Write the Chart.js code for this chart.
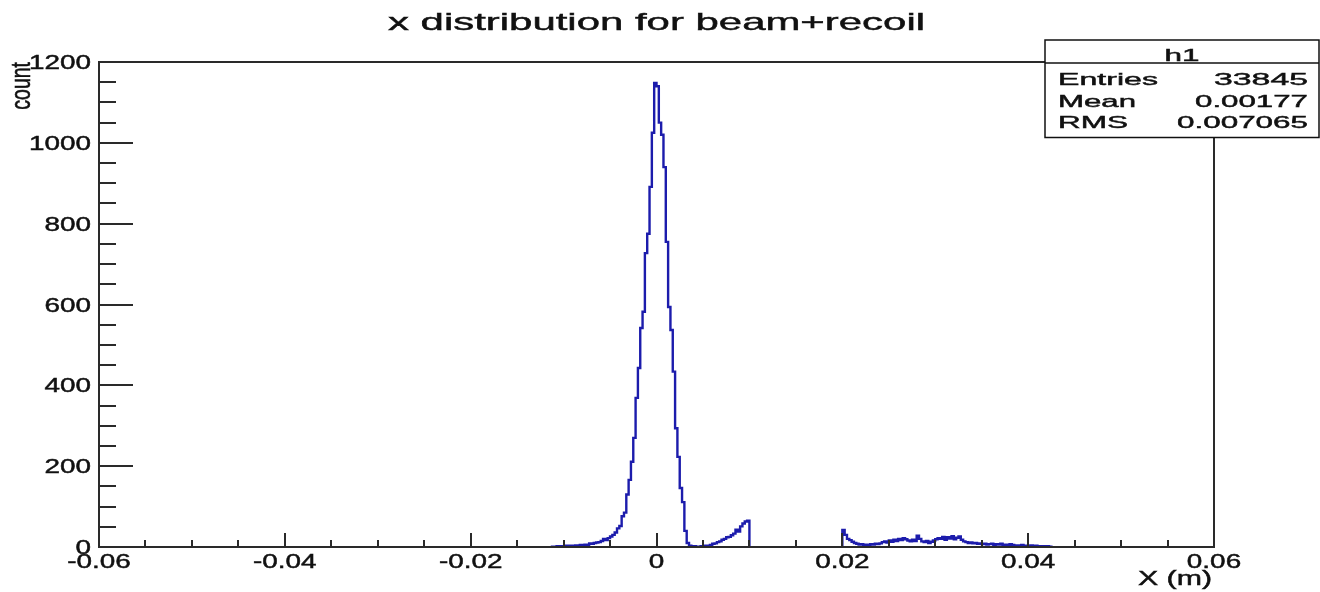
<!DOCTYPE html>
<html>
<head>
<meta charset="utf-8">
<script src="https://cdn.jsdelivr.net/npm/chart.js@4/dist/chart.umd.min.js"></script>
<style>
html,body{margin:0;padding:0;background:#fff}
#c{display:block}
</style>
</head>
<body>
<canvas id="c" width="1320" height="592"></canvas>
<script>
// histogram h1 (bin width 0.00025 m)
const titleText = 'x distribution for beam+recoil';
const xTitle = 'X (m)';
const yTitle = 'count';
const binWidth = 0.00025;

// main peak + small shoulder, bins starting at -0.01125
const peakStart = -0.01125;
const peakCounts = [
  1, 1, 2, 1, 2, 1, 3, 2, 3, 2,
  4, 3, 5, 4, 6, 5, 9, 8, 10, 11,
  12, 15, 20, 17, 22, 26, 30, 36, 46, 52,
  76, 85, 130, 166, 211, 270, 369, 443, 542, 582,
  727, 775, 891, 1025, 1148, 1140, 1050, 1020, 940, 755,
  594, 537, 434, 294, 223, 146, 111, 40, 10, 3,
  1, 2, 1, 1, 2, 1, 3, 2, 5, 8,
  9, 12, 14, 18, 20, 24, 25, 29, 33, 43,
  38, 51, 58, 63, 65
];

// recoil tail, bins starting at 0.02
const tailStart = 0.02;
const tailCounts = [
  42, 30, 20, 17, 13, 10, 8, 6, 7, 5,
  6, 5, 7, 6, 8, 7, 9, 12, 14, 11,
  16, 13, 18, 15, 20, 17, 22, 19, 16, 14,
  18, 15, 28, 20, 14, 12, 15, 10, 13, 16,
  19, 22, 20, 25, 18, 24, 21, 27, 19, 23,
  26, 18, 14, 12, 10, 11, 9, 10, 8, 9,
  7, 8, 6, 7, 8, 5, 7, 6, 8, 5,
  6, 4, 7, 5, 3, 4, 3, 5, 2, 3,
  2, 4, 2, 3, 2, 1, 2, 1, 2, 1
];

const xTicks = [-0.06, -0.04, -0.02, 0, 0.02, 0.04, 0.06];
const xTickLabels = ['-0.06', '-0.04', '-0.02', '0', '0.02', '0.04', '0.06'];
const yTicks = [0, 200, 400, 600, 800, 1000, 1200];
const yTickLabels = ['0', '200', '400', '600', '800', '1000', '1200'];

const statsName = 'h1';
const statsKeys = ['Entries', 'Mean', 'RMS'];
const statsVals = ['33845', '0.00177', '0.007065'];

const FONT = '"Liberation Sans", Arial, Helvetica, sans-serif';
const LINE = 'rgb(28,28,172)';
const INK = '#111';

// step points at bin lower edges, closed down to zero at both ends
function histPoints(start, counts) {
  const pts = [{x: start, y: 0}];
  counts.forEach((c, i) => pts.push({x: start + i * binWidth, y: c}));
  pts.push({x: start + counts.length * binWidth, y: 0});
  return pts;
}

// text stretched sideways like the ROOT export, with a light stroke for weight
function txt(ctx, s, x, y, size, align, sx) {
  ctx.save();
  ctx.font = size + 'px ' + FONT;
  ctx.translate(x, y);
  ctx.scale(sx, 1);
  ctx.textAlign = align;
  ctx.textBaseline = 'alphabetic';
  ctx.fillStyle = INK;
  ctx.strokeStyle = INK;
  ctx.lineWidth = 0.45;
  ctx.fillText(s, 0, 0);
  ctx.strokeText(s, 0, 0);
  ctx.restore();
}
function txtWidth(ctx, s, x, y, size, align, w) {
  ctx.save();
  ctx.font = size + 'px ' + FONT;
  const sx = w / ctx.measureText(s).width;
  ctx.restore();
  txt(ctx, s, x, y, size, align, sx);
}

const rootFrame = {
  id: 'rootFrame',
  beforeDraw(chart) {
    const ctx = chart.ctx;
    ctx.save();
    ctx.fillStyle = '#fff';
    ctx.fillRect(0, 0, chart.width, chart.height);
    ctx.restore();
  },
  afterDatasetsDraw(chart) {
    const {ctx, chartArea: a, scales: {x, y}} = chart;
    ctx.save();
    ctx.strokeStyle = '#2a2a2a';
    ctx.lineWidth = 2;
    ctx.strokeRect(a.left, a.top, a.right - a.left, a.bottom - a.top);

    // inward ticks: y every 50 (major 200), x every 0.005 (major 0.02)
    ctx.beginPath();
    for (let v = y.min; v <= y.max + 1e-9; v += 50) {
      const py = Math.round(y.getPixelForValue(v));
      const len = v % 200 === 0 ? 34 : 17;
      ctx.moveTo(a.left, py); ctx.lineTo(a.left + len, py);
    }
    for (let i = 0; i <= 24; i++) {
      const px = Math.round(x.getPixelForValue(x.min + i * 0.005));
      const len = i % 4 === 0 ? 14 : 7;
      ctx.moveTo(px, a.bottom); ctx.lineTo(px, a.bottom - len);
    }
    ctx.stroke();

    yTicks.forEach((v, i) => txt(ctx, yTickLabels[i], a.left - 8, y.getPixelForValue(v) + 7, 19.5, 'right', 1.43));
    xTicks.forEach((v, i) => txt(ctx, xTickLabels[i], x.getPixelForValue(v), 568, 19.5, 'center', 1.43));

    txtWidth(ctx, titleText, 656.5, 30, 24, 'center', 537);
    txtWidth(ctx, xTitle, 1212, 585, 19.5, 'right', 74);

    // rotated y title
    ctx.save();
    ctx.font = '19.5px ' + FONT;
    ctx.translate(30, 62);
    ctx.rotate(-Math.PI / 2);
    ctx.scale(1, 1.43);
    ctx.textAlign = 'right';
    ctx.fillStyle = INK;
    ctx.strokeStyle = INK;
    ctx.lineWidth = 0.4;
    ctx.fillText(yTitle, 0, 0);
    ctx.strokeText(yTitle, 0, 0);
    ctx.restore();

    // stats box
    const bx = 1045, by = 40, bw = 274, bh = 97.5;
    ctx.fillStyle = '#fff';
    ctx.fillRect(bx, by, bw, bh);
    ctx.strokeStyle = INK;
    ctx.lineWidth = 1.5;
    ctx.strokeRect(bx, by, bw, bh);
    ctx.beginPath();
    ctx.moveTo(bx, 63); ctx.lineTo(bx + bw, 63);
    ctx.stroke();
    txt(ctx, statsName, bx + bw / 2, 61, 17, 'center', 1.85);
    statsKeys.forEach((k, i) => {
      const base = 85 + i * 21.7;
      txtWidth(ctx, k, 1058, base, 17, 'left', [100, 78, 70][i]);
      txtWidth(ctx, statsVals[i], 1308, base, 17, 'right', [94, 113, 131][i]);
    });
    ctx.restore();
  }
};

const ds = pts => ({
  data: pts, stepped: true, borderColor: LINE, borderWidth: 2.4,
  pointRadius: 0, fill: false, tension: 0
});

new Chart(document.getElementById('c').getContext('2d'), {
  type: 'line',
  data: {datasets: [ds(histPoints(peakStart, peakCounts)), ds(histPoints(tailStart, tailCounts))]},
  options: {
    responsive: false, animation: false, devicePixelRatio: 1,
    layout: {padding: {left: 99, right: 106, top: 62, bottom: 45}},
    plugins: {legend: {display: false}, tooltip: {enabled: false}, title: {display: false}},
    scales: {
      x: {type: 'linear', min: -0.06, max: 0.06, display: false},
      y: {type: 'linear', min: 0, max: 1200, display: false}
    }
  },
  plugins: [rootFrame]
});
</script>
</body>
</html>
